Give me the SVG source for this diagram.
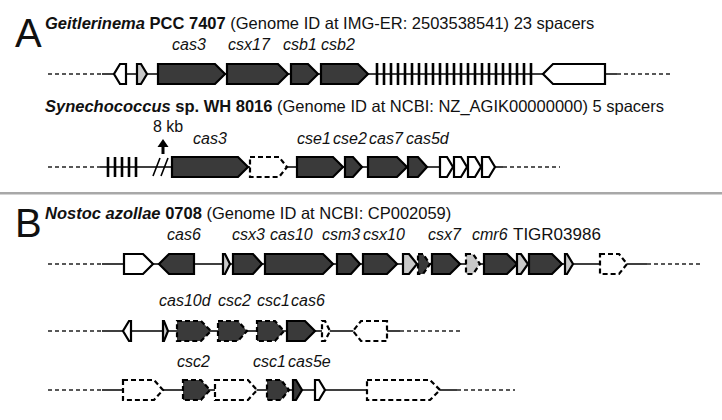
<svg xmlns="http://www.w3.org/2000/svg" width="722" height="420" viewBox="0 0 722 420">
<style>
text{font-family:"Liberation Sans",Arial,sans-serif;fill:#111}
.big{font-size:40px}
.title{font-size:16.5px}
.lab{font-size:16px;font-style:italic}
.bi{font-weight:bold;font-style:italic}
.b{font-weight:bold}
.g{stroke:#000;stroke-width:2.2;stroke-linejoin:miter}
.dark{fill:#3a3a3a}
.grey{fill:#c8c8c8}
.white{fill:#fff}
.dsh{stroke-dasharray:5 3}
.bb{stroke:#000;stroke-width:1.6;fill:none}
.bbd{stroke:#222;stroke-width:1.4;fill:none;stroke-dasharray:4 3}
.sp{stroke:#000;stroke-width:2.6;fill:none}
</style>
<rect width="722" height="420" fill="#fff"/>
<rect x="0" y="192" width="722" height="2.5" fill="#a8a8a8"/>

<g id="connectors">
<path class="bbd" d="M48 74H102M48 167H100M48 264H102M48 331H102M48 390H102"/>
<path class="bbd" d="M617 74H672M503 167H560M647 264H703M400 331H460M457 390H515"/>
<path class="bb" d="M102 74H617M100 167H503M102 264H647M102 331H400M102 390H457"/>
</g>

<g id="labelA"><text class="big" x="15" y="47">A</text></g>
<g id="titleA1"><text class="title" x="45" y="29"><tspan class="bi">Geitlerinema</tspan><tspan class="b"> PCC 7407</tspan> (Genome ID at IMG-ER: 2503538541) 23 spacers</text></g>
<g id="labelsA1">
<text class="lab" x="172" y="50">cas3</text>
<text class="lab" x="228" y="50">csx17</text>
<text class="lab" x="283" y="50">csb1</text>
<text class="lab" x="321" y="50">csb2</text>
</g>
<g id="a1-g1"><path class="g white" d="M126 64H120L114 74L120 84H126Z"/></g>
<g id="a1-g2"><path class="g grey" d="M137 64H141L147 74L141 84H137Z"/></g>
<g id="a1-cas3"><path class="g dark" d="M158 64H215L225 74L215 84H158Z"/></g>
<g id="a1-csx17"><path class="g dark" d="M227 64H278L288 74L278 84H227Z"/></g>
<g id="a1-csb1"><path class="g dark" d="M291 64H308L318 74L308 84H291Z"/></g>
<g id="a1-csb2"><path class="g dark" d="M321 64H358L368 74L358 84H321Z"/></g>
<g id="a1-spacers"><path class="sp" d="M377 63V85M384 63V85M391 63V85M398 63V85M405 63V85M412 63V85M419 63V85M426 63V85M433 63V85M440 63V85M447 63V85M454 63V85M461 63V85M468 63V85M475 63V85M482 63V85M489 63V85M496 63V85M503 63V85M510 63V85M517 63V85M524 63V85M531 63V85"/></g>
<g id="a1-g7"><path class="g white" d="M605 64H553L543 74L553 84H605Z"/></g>

<g id="titleA2"><text class="title" x="45" y="112"><tspan class="bi">Synechococcus</tspan><tspan class="b"> sp. WH 8016</tspan> (Genome ID at NCBI: NZ_AGIK00000000) 5 spacers</text></g>
<g id="labelsA2">
<text x="153" y="132" style="font-size:16px">8 kb</text>
<text class="lab" x="193" y="144">cas3</text>
<text class="lab" x="297" y="144">cse1</text>
<text class="lab" x="333" y="144">cse2</text>
<text class="lab" x="369" y="144">cas7</text>
<text class="lab" x="406" y="144">cas5d</text>
</g>
<g id="a2-spacers"><path class="sp" d="M108 157V177M115 157V177M122 157V177M129 157V177M136 157V177"/></g>
<g id="a2-break"><path stroke="#000" stroke-width="1.6" fill="none" d="M153 176L160 158M161 176L168 158"/></g>
<g id="a2-arrow"><rect x="161.5" y="146" width="3" height="8" fill="#000"/><path d="M157.5 147H168.5L163 139Z" fill="#000"/></g>
<g id="a2-cas3"><path class="g dark" d="M172 157H238L248 167L238 177H172Z"/></g>
<g id="a2-g2"><path class="g white dsh" d="M250 157H279L287 167L279 177H250Z"/></g>
<g id="a2-cse1"><path class="g dark" d="M297 157H333L343 167L333 177H297Z"/></g>
<g id="a2-cse2"><path class="g dark" d="M345 157H353L362 167L353 177H345Z"/></g>
<g id="a2-cas7"><path class="g dark" d="M368 157H397L407 167L397 177H368Z"/></g>
<g id="a2-cas5d"><path class="g dark" d="M408 157H418L427 167L418 177H408Z"/></g>
<g id="a2-w1"><path class="g white" d="M440 157H447L453 167L447 177H440Z"/></g>
<g id="a2-w2"><path class="g white" d="M454 157H461L467 167L461 177H454Z"/></g>
<g id="a2-w3"><path class="g white" d="M468 157H475L481 167L475 177H468Z"/></g>
<g id="a2-w4"><path class="g white" d="M482 157H489L495 167L489 177H482Z"/></g>

<g id="labelB"><text class="big" x="15" y="237">B</text></g>
<g id="titleB"><text class="title" x="45" y="219"><tspan class="bi">Nostoc azollae</tspan><tspan class="b"> 0708</tspan> (Genome ID at NCBI: CP002059)</text></g>
<g id="labelsB1">
<text class="lab" x="167" y="240">cas6</text>
<text class="lab" x="232" y="240">csx3</text>
<text class="lab" x="270" y="240">cas10</text>
<text class="lab" x="322" y="240">csm3</text>
<text class="lab" x="363" y="240">csx10</text>
<text class="lab" x="428" y="240">csx7</text>
<text class="lab" x="472" y="240">cmr6</text>
<text x="513" y="240" style="font-size:17px">TIGR03986</text>
</g>
<g id="b1-g1"><path class="g white" d="M124 254H143L153 264L143 274H124Z"/></g>
<g id="b1-cas6"><path class="g dark" d="M194 254H169L159 264L169 274H194Z"/></g>
<g id="b1-g3"><path class="g grey" d="M223 254H225L230 264L225 274H223Z"/></g>
<g id="b1-csx3"><path class="g dark" d="M233 254H253L262 264L253 274H233Z"/></g>
<g id="b1-cas10"><path class="g dark" d="M265 254H323L333 264L323 274H265Z"/></g>
<g id="b1-csm3"><path class="g dark" d="M337 254H351L360 264L351 274H337Z"/></g>
<g id="b1-csx10"><path class="g dark" d="M363 254H387L397 264L387 274H363Z"/></g>
<g id="b1-g8"><path class="g grey" d="M403 254H409L417 264L409 274H403Z"/></g>
<g id="b1-g9"><path class="g dark dsh" d="M418 254H423L430 264L423 274H418Z"/></g>
<g id="b1-csx7"><path class="g dark" d="M432 254H450L460 264L450 274H432Z"/></g>
<g id="b1-g11"><path class="g grey dsh" d="M466 254H473L480 264L473 274H466Z"/></g>
<g id="b1-cmr6"><path class="g dark" d="M484 254H507L517 264L507 274H484Z"/></g>
<g id="b1-g13"><path class="g grey" d="M517 254H521L528 264L521 274H517Z"/></g>
<g id="b1-tigr"><path class="g dark" d="M529 254H552L562 264L552 274H529Z"/></g>
<g id="b1-g15"><path class="g grey" d="M565 254H567L573 264L567 274H565Z"/></g>
<g id="b1-g16"><path class="g white dsh" d="M600 254H619L627 264L619 274H600Z"/></g>

<g id="labelsB2">
<text class="lab" x="159" y="306">cas10d</text>
<text class="lab" x="218" y="306">csc2</text>
<text class="lab" x="257" y="306">csc1</text>
<text class="lab" x="291" y="306">cas6</text>
</g>
<g id="b2-g1"><path class="g white" d="M131 321H129L123 331L129 341H131Z"/></g>
<g id="b2-g2"><path class="g grey" d="M163 321H164L168 331L164 341H163Z"/></g>
<g id="b2-cas10d"><path class="g dark dsh" d="M177 321H201L211 331L201 341H177Z"/></g>
<g id="b2-csc2"><path class="g dark dsh" d="M218 321H238L247 331L238 341H218Z"/></g>
<g id="b2-csc1"><path class="g dark dsh" d="M257 321H275L284 331L275 341H257Z"/></g>
<g id="b2-cas6"><path class="g dark" d="M287 321H305L315 331L305 341H287Z"/></g>
<g id="b2-g7"><path class="g white dsh" d="M322 321H325L330 331L325 341H322Z"/></g>
<g id="b2-g8"><path class="g white dsh" d="M387 321H361L353 331L361 341H387Z"/></g>

<g id="labelsB3">
<text class="lab" x="177" y="367">csc2</text>
<text class="lab" x="253" y="367">csc1</text>
<text class="lab" x="288" y="367">cas5e</text>
</g>
<g id="b3-g1"><path class="g white dsh" d="M123 380H154L163 390L154 400H123Z"/></g>
<g id="b3-csc2"><path class="g dark dsh" d="M183 380H201L210 390L201 400H183Z"/></g>
<g id="b3-g3"><path class="g white dsh" d="M215 380H248L257 390L248 400H215Z"/></g>
<g id="b3-csc1"><path class="g dark dsh" d="M267 380H281L289 390L281 400H267Z"/></g>
<g id="b3-cas5e"><path class="g dark" d="M293 380H296L302 390L296 400H293Z"/></g>
<g id="b3-g6"><path class="g white" d="M315 380H319L325 390L319 400H315Z"/></g>
<g id="b3-g7"><path class="g white dsh" d="M367 380H430L440 390L430 400H367Z"/></g>
</svg>
